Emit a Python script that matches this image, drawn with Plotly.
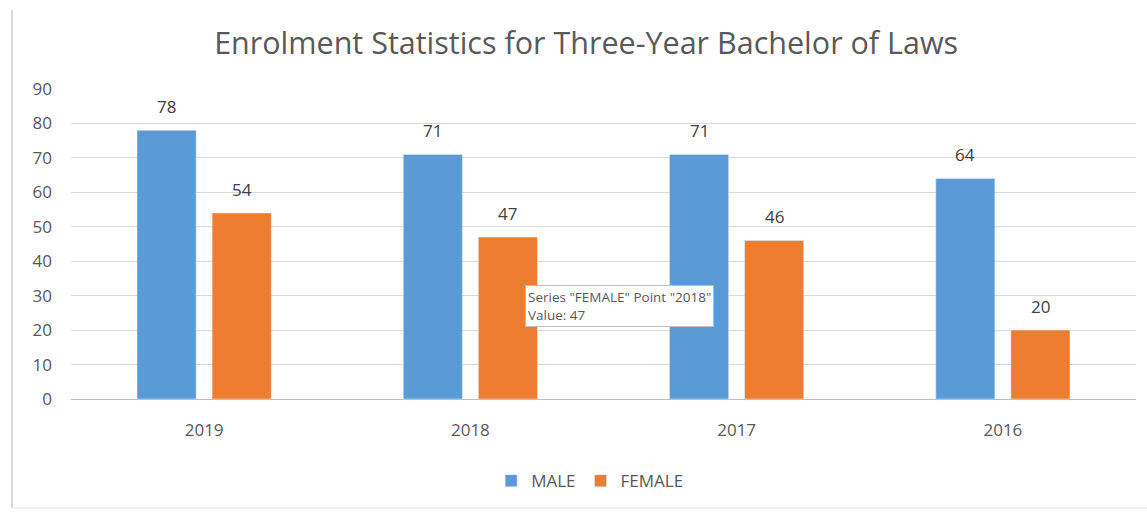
import plotly.graph_objects as go

years = ["2019", "2018", "2017", "2016"]
male = [78, 71, 71, 64]
female = [54, 47, 46, 20]
y_ticks = [0, 10, 20, 30, 40, 50, 60, 70, 80, 90]

BLUE = "#5B9BD5"
ORANGE = "#ED7D31"
TEXT = "#595959"
FONT = "Open Sans"

pos = list(range(len(years)))

fig = go.Figure()
fig.add_trace(go.Bar(name="MALE", x=pos, y=male, marker_color=BLUE,
                     hoverinfo="skip"))
fig.add_trace(go.Bar(name="FEMALE", x=pos, y=female, marker_color=ORANGE,
                     hoverinfo="skip"))

# value labels above each bar
annotations = []
for p, v in zip(pos, male):
    annotations.append(dict(x=p, y=v, text=str(v), showarrow=False, xref="x", yref="y",
                            xshift=-37.5, yshift=24, font=dict(size=17, color="#404040", family=FONT)))
for p, v in zip(pos, female):
    annotations.append(dict(x=p, y=v, text=str(v), showarrow=False, xref="x", yref="y",
                            xshift=37.5, yshift=24, font=dict(size=17, color="#404040", family=FONT)))

# hover-style callout for the 2018 female bar
annotations.append(dict(
    x=0.426, y=0.368, xref="paper", yref="paper", xanchor="left", yanchor="top",
    text=f'Series "FEMALE" Point "{years[1]}"<br>Value: {female[1]}',
    showarrow=False, align="left",
    font=dict(size=13.5, color="#595959", family=FONT),
    bgcolor="white", bordercolor="#bfbfbf", borderwidth=1, borderpad=2,
))

shapes = [
    dict(type="line", xref="paper", yref="paper", x0=-0.0554, x1=-0.0554, y0=1.255, y1=-0.352,
         line=dict(color="#d9d9d9", width=2)),
    dict(type="line", xref="paper", yref="paper", x0=-0.0554, x1=1.02, y0=-0.352, y1=-0.352,
         line=dict(color="#ececec", width=1.5)),
]

fig.update_layout(
    width=1147, height=513,
    margin=dict(l=71, r=11, t=89, b=114),
    paper_bgcolor="white", plot_bgcolor="white",
    barmode="group", bargap=0.436, bargroupgap=0.213,
    title=dict(text="Enrolment Statistics for Three-Year Bachelor of Laws",
               x=0.511, xanchor="center", y=0.915, yanchor="middle",
               font=dict(size=30.5, color=TEXT, family=FONT)),
    font=dict(family=FONT, color=TEXT),
    legend=dict(orientation="h", x=0.487, xanchor="center", y=-0.265, yanchor="middle",
                font=dict(size=17, color=TEXT, family=FONT), itemwidth=30,
                traceorder="normal"),
    annotations=annotations,
    shapes=shapes,
    yaxis=dict(range=[0, 90], tickvals=y_ticks, showgrid=True, gridcolor="#d9d9d9",
               gridwidth=1, zeroline=True, zerolinecolor="#bfbfbf", zerolinewidth=1,
               showline=False, ticks="", tickfont=dict(size=17, color=TEXT),
               ticklabelstandoff=18),
    xaxis=dict(range=[-0.5, len(years) - 0.5], tickvals=pos, ticktext=years,
               showgrid=False, zeroline=False, showline=False, ticks="",
               tickfont=dict(size=17, color=TEXT), ticklabelstandoff=19),
)

fig.write_html("out.html")
